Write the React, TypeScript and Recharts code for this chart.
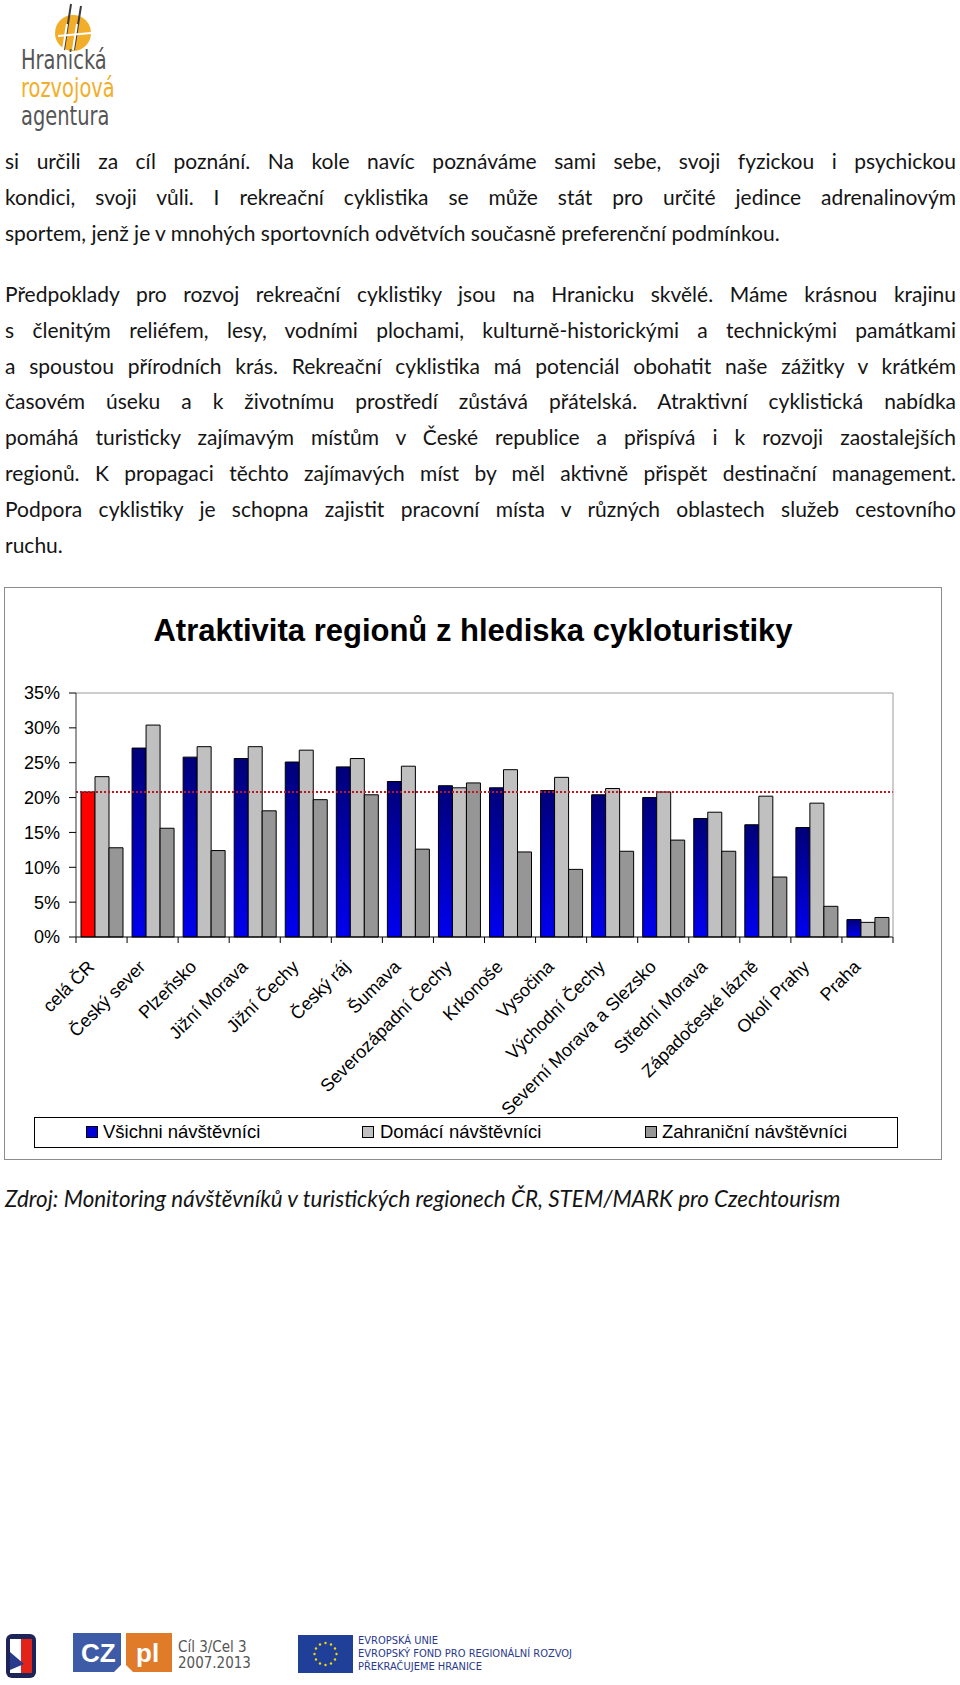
import { Bar, BarChart, Cell, ReferenceLine, XAxis, YAxis } from "recharts";

// Atraktivita regionů z hlediska cykloturistiky — share of visitors (%)
const REGIONS = [
  "celá ČR",
  "Český sever",
  "Plzeňsko",
  "Jižní Morava",
  "Jižní Čechy",
  "Český ráj",
  "Šumava",
  "Severozápadní Čechy",
  "Krkonoše",
  "Vysočina",
  "Východní Čechy",
  "Severní Morava a Slezsko",
  "Střední Morava",
  "Západočeské lázně",
  "Okolí Prahy",
  "Praha",
];
const ALL_VISITORS = [20.8, 27.1, 25.8, 25.6, 25.1, 24.4, 22.3, 21.7, 21.4, 21.0, 20.4, 20.0, 17.0, 16.1, 15.7, 2.5];
const DOMESTIC = [23.0, 30.4, 27.3, 27.3, 26.8, 25.6, 24.5, 21.4, 24.0, 22.9, 21.3, 20.8, 17.9, 20.2, 19.2, 2.1];
const FOREIGN = [12.8, 15.6, 12.4, 18.1, 19.7, 20.4, 12.6, 22.1, 12.2, 9.7, 12.3, 13.9, 12.3, 8.6, 4.4, 2.8];
const Y_TICKS = [0, 5, 10, 15, 20, 25, 30, 35];
const SERIES_NAMES = ["Všichni návštěvníci", "Domácí návštěvníci", "Zahraniční návštěvníci"];

const data = REGIONS.map((region, i) => ({
  region,
  all: ALL_VISITORS[i],
  domestic: DOMESTIC[i],
  foreign: FOREIGN[i],
}));

const ARIAL = '"Liberation Sans", Arial, sans-serif';
const BODY = 'Lato, "Open Sans", sans-serif';
const NARROW = '"DejaVu Sans Condensed", "DejaVu Sans", sans-serif';
const CHART_W = 938;
const CHART_H = 573;
const MARGIN = { top: 106, right: 48, left: 0, bottom: 0 };
const Y_AXIS_W = 72;
const BAND = (CHART_W - Y_AXIS_W - MARGIN.right - 1) / REGIONS.length;

const LIGHT = "#c0c0c0";
const DARK = "#969696";

function RegionTick(props: any) {
  const { x, y, payload, index } = props;
  const half = BAND / 2;
  return (
    <g>
      <line x1={x - half} x2={x - half} y1={y} y2={y + 6} stroke="#000" />
      {index === REGIONS.length - 1 && (
        <line x1={x + half} x2={x + half} y1={y} y2={y + 6} stroke="#000" />
      )}
      <text
        transform={`translate(${x - 6},${y + 31}) rotate(-45)`}
        textAnchor="end"
        fontFamily={ARIAL}
        fontSize={18}
        fill="#000"
      >
        {payload.value}
      </text>
    </g>
  );
}

const PARA_1 = [
  "si určili za cíl poznání. Na kole navíc poznáváme sami sebe, svoji fyzickou i psychickou",
  "kondici, svoji vůli. I rekreační cyklistika se může stát pro určité jedince adrenalinovým",
  "sportem, jenž je v mnohých sportovních odvětvích současně preferenční podmínkou.",
];
const PARA_2 = [
  "Předpoklady pro rozvoj rekreační cyklistiky jsou na Hranicku skvělé. Máme krásnou krajinu",
  "s členitým reliéfem, lesy, vodními plochami, kulturně-historickými a technickými památkami",
  "a spoustou přírodních krás. Rekreační cyklistika má potenciál obohatit naše zážitky v krátkém",
  "časovém úseku a k životnímu prostředí zůstává přátelská. Atraktivní cyklistická nabídka",
  "pomáhá turisticky zajímavým místům v České republice a přispívá i k rozvoji zaostalejších",
  "regionů. K propagaci těchto zajímavých míst by měl aktivně přispět destinační management.",
  "Podpora cyklistiky je schopna zajistit pracovní místa v různých oblastech služeb cestovního",
  "ruchu.",
];

function Paragraph({ lines, top }: { lines: string[]; top: number }) {
  return (
    <div style={{ position: "absolute", left: 5, top, width: 951, fontFamily: BODY, fontSize: 21, lineHeight: "35.8px", color: "#141414" }}>
      {lines.map((line, i) => {
        const last = i === lines.length - 1;
        return (
          <div
            key={i}
            style={{ whiteSpace: "nowrap", textAlign: last ? "left" : "justify", textAlignLast: last ? "left" : "justify" } as any}
          >
            {line}
          </div>
        );
      })}
    </div>
  );
}

function Logo() {
  const lineStyle = (color: string) => ({
    color,
    height: 28,
    transform: "scaleX(0.8)",
    transformOrigin: "left center",
    whiteSpace: "nowrap" as const,
  });
  return (
    <div style={{ position: "absolute", left: 18, top: 2, width: 110, height: 135 }}>
      <svg width={110} height={50} style={{ position: "absolute", left: 0, top: 0 }}>
        <circle cx={55} cy={31} r={18} fill="#f2ae2a" />
        <line x1={53} y1={2} x2={46} y2={48} stroke="#3b3b3b" strokeWidth={2} />
        <line x1={63} y1={4} x2={56} y2={48} stroke="#3b3b3b" strokeWidth={2} />
        <line x1={49} y1={22} x2={45} y2={48} stroke="#fff" strokeWidth={2} />
        <line x1={59} y1={22} x2={55} y2={48} stroke="#fff" strokeWidth={2} />
        <line x1={40} y1={34} x2={84} y2={30} stroke="#fff" strokeWidth={2} />
      </svg>
      <div style={{ position: "absolute", left: 3, top: 44, fontFamily: NARROW, fontSize: 27, lineHeight: "28px" }}>
        <div style={lineStyle("#555")}>Hranická</div>
        <div style={lineStyle("#f2ae2a")}>rozvojová</div>
        <div style={lineStyle("#555")}>agentura</div>
      </div>
    </div>
  );
}

function FooterLogos() {
  const stars = Array.from({ length: 12 }, (_, i) => i);
  return (
    <div style={{ position: "absolute", left: 0, top: 1630, width: 600, height: 55 }}>
      <svg width={600} height={55} style={{ position: "absolute", left: 0, top: 0 }}>
        <rect x={6} y={4} width={30} height={44} rx={6} fill="#1c2458" />
        <rect x={10} y={9} width={22} height={34} fill="#fff" />
        <rect x={21} y={9} width={11} height={34} fill="#e2231a" />
        <path d="M10 22 L24 34 L10 40 Z" fill="#2a3a8c" />
        <path d="M73 3 H121 V35 L114 42 H73 Z" fill="#3e5ba8" />
        <path d="M126 3 H172 V42 H133 L126 35 Z" fill="#e07b2a" />
        <text x={81} y={32} fontFamily={ARIAL} fontWeight="bold" fontSize={26} fill="#fff">CZ</text>
        <text x={136} y={32} fontFamily={ARIAL} fontWeight="bold" fontSize={26} fill="#fff">pl</text>
        <text x={178} y={22} fontFamily={NARROW} fontSize={15} fill="#555">Cíl 3/Cel 3</text>
        <text x={178} y={38} fontFamily={NARROW} fontSize={15} fill="#555">2007.2013</text>
        <rect x={298} y={5} width={55} height={38} fill="#1f3f99" />
        {stars.map((i) => (
          <circle
            key={i}
            cx={325.5 + 11 * Math.cos((i * Math.PI) / 6)}
            cy={24 + 11 * Math.sin((i * Math.PI) / 6)}
            r={1.2}
            fill="#f5d800"
          />
        ))}
        <text x={358} y={14} fontFamily={NARROW} fontSize={11} fill="#2a3a8c">EVROPSKÁ UNIE</text>
        <text x={358} y={27} fontFamily={NARROW} fontSize={11} fill="#2a3a8c">EVROPSKÝ FOND PRO REGIONÁLNÍ ROZVOJ</text>
        <text x={358} y={40} fontFamily={NARROW} fontSize={11} fill="#2a3a8c">PŘEKRAČUJEME HRANICE</text>
      </svg>
    </div>
  );
}

function LegendBox() {
  const items = [
    { name: SERIES_NAMES[0], color: "#0000d8", sq: 86, txt: 103 },
    { name: SERIES_NAMES[1], color: LIGHT, sq: 362, txt: 380 },
    { name: SERIES_NAMES[2], color: DARK, sq: 645, txt: 662 },
  ];
  return (
    <div style={{ position: "absolute", left: 34, top: 1117, width: 864, height: 31, border: "1.5px solid #000", boxSizing: "border-box" }}>
      {items.map((it) => (
        <div key={it.name}>
          <div style={{ position: "absolute", left: it.sq - 35, top: 8, width: 12, height: 12, background: it.color, border: "1px solid #000", boxSizing: "border-box" }} />
          <div style={{ position: "absolute", left: it.txt - 35, top: 3, fontFamily: ARIAL, fontSize: 18.5, lineHeight: "22px", color: "#000", whiteSpace: "nowrap" }}>
            {it.name}
          </div>
        </div>
      ))}
    </div>
  );
}

export default function App() {
  return (
    <div style={{ position: "relative", width: 960, height: 1685, background: "#fff", overflow: "hidden" }}>
      <style>{"body{margin:0}"}</style>
      <Logo />
      <Paragraph lines={PARA_1} top={143} />
      <Paragraph lines={PARA_2} top={276} />

      <div style={{ position: "absolute", left: 4, top: 587, width: CHART_W, height: CHART_H }}>
        <BarChart
          width={CHART_W}
          height={CHART_H}
          data={data}
          margin={MARGIN}
          barSize={14}
          barGap={0}
          barCategoryGap={4}
        >
          <defs>
            <linearGradient id="blueFill" x1="0" y1="0" x2="0" y2="1">
              <stop offset="0%" stopColor="#000078" />
              <stop offset="100%" stopColor="#0000f0" />
            </linearGradient>
          </defs>
          <XAxis
            dataKey="region"
            interval={0}
            height={223}
            tick={<RegionTick />}
            tickLine={false}
            tickSize={0}
            tickMargin={0}
            axisLine={{ stroke: "#000" }}
          />
          <YAxis
            domain={[0, 35]}
            ticks={Y_TICKS}
            interval={0}
            width={Y_AXIS_W}
            tickSize={7}
            tickMargin={9}
            tickFormatter={(v: number) => `${v}%`}
            tick={{ fontFamily: ARIAL, fontSize: 18, fill: "#000" }}
            tickLine={{ stroke: "#000" }}
            axisLine={{ stroke: "#333" }}
          />
          <YAxis
            yAxisId="frame"
            orientation="right"
            domain={[0, 35]}
            width={1}
            tick={false}
            tickLine={false}
            axisLine={{ stroke: "#9a9a9a" }}
          />
          <ReferenceLine y={35} stroke="#9a9a9a" />
          <Bar dataKey="all" name={SERIES_NAMES[0]} fill="url(#blueFill)" stroke="#000" strokeWidth={1} isAnimationActive={false}>
            {data.map((d, i) => (
              <Cell key={d.region} fill={i === 0 ? "#ff0000" : "url(#blueFill)"} />
            ))}
          </Bar>
          <Bar dataKey="domestic" name={SERIES_NAMES[1]} fill={LIGHT} stroke="#000" strokeWidth={1} isAnimationActive={false} />
          <Bar dataKey="foreign" name={SERIES_NAMES[2]} fill={DARK} stroke="#000" strokeWidth={1} isAnimationActive={false} />
          <ReferenceLine y={ALL_VISITORS[0]} stroke="#c0141e" strokeWidth={2} strokeDasharray="2 2" />
        </BarChart>
      </div>
      <div style={{ position: "absolute", left: 4, top: 587, width: CHART_W, height: CHART_H, border: "1.5px solid #8c8c8c", boxSizing: "border-box", pointerEvents: "none" }} />
      <div style={{ position: "absolute", left: 4, top: 615, width: CHART_W, textAlign: "center", fontFamily: ARIAL, fontWeight: "bold", fontSize: 31, lineHeight: 1, color: "#000" }}>
        Atraktivita regionů z hlediska cykloturistiky
      </div>
      <LegendBox />

      <div style={{ position: "absolute", left: 5, top: 1181, fontFamily: BODY, fontStyle: "italic", fontSize: 22.4, lineHeight: "36px", color: "#141414", whiteSpace: "nowrap" }}>
        Zdroj: Monitoring návštěvníků v turistických regionech ČR, STEM/MARK pro Czechtourism
      </div>
      <FooterLogos />
    </div>
  );
}
